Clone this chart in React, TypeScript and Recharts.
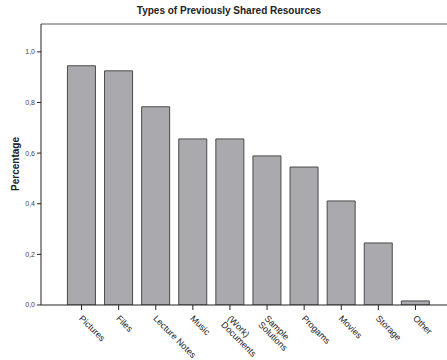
import { BarChart, Bar, XAxis, YAxis, ReferenceLine } from "recharts";

const categories = [
  "Pictures",
  "Files",
  "Lecture Notes",
  "Music",
  "(Work)\nDocuments",
  "Sample\nSolutions",
  "Progams",
  "Movies",
  "Storage",
  "Other",
];

const percentages = [0.945, 0.925, 0.783, 0.656, 0.656, 0.589, 0.545, 0.411, 0.245, 0.016];

const yTicks = [0, 0.2, 0.4, 0.6, 0.8, 1.0];

const data = categories.map((name, i) => ({ name, value: percentages[i] }));

const FONT = "'Liberation Sans', Arial, sans-serif";

const CategoryTick = ({ x, y, payload }: any) => {
  const lines = String(payload.value).split("\n");
  return (
    <g transform={`translate(${x - 3},${y + 7}) rotate(45)`}>
      <text x={0} y={0} fontSize={9} fontFamily={FONT} fill="#222" textAnchor="start">
        {lines.map((line, i) => (
          <tspan key={i} x={0} dy={i === 0 ? 0 : 9}>
            {line}
          </tspan>
        ))}
      </text>
    </g>
  );
};

const App = () => {
  return (
    <div
      style={{
        position: "absolute",
        left: 0,
        top: 0,
        width: 447,
        height: 360,
        overflow: "hidden",
        background: "#fff",
        fontFamily: FONT,
      }}
    >
      <div
        style={{
          position: "absolute",
          top: 5,
          left: 0,
          width: 458,
          textAlign: "center",
          fontSize: 10,
          fontWeight: "bold",
          color: "#222",
        }}
      >
        Types of Previously Shared Resources
      </div>
      <div
        style={{
          position: "absolute",
          left: 15,
          top: 164,
          transform: "translate(-50%, -50%) rotate(-90deg)",
          fontSize: 10,
          fontWeight: "bold",
          color: "#222",
          whiteSpace: "nowrap",
        }}
      >
        Percentage
      </div>
      <BarChart
        width={456}
        height={360}
        data={data}
        margin={{ top: 24, right: 0, bottom: 0, left: 0 }}
        barCategoryGap="12%"
      >
        <XAxis
          dataKey="name"
          interval={0}
          height={55}
          padding={{ left: 22, right: 22 }}
          stroke="#222"
          tickLine={{ stroke: "#222" }}
          tickSize={5}
          tick={<CategoryTick />}
        />
        <YAxis
          width={41}
          domain={[0, 1.11]}
          ticks={yTicks}
          allowDataOverflow
          stroke="#222"
          tickSize={4}
          tick={{ fontSize: 7, fill: "#444", fontFamily: FONT }}
          tickFormatter={(v: number) => v.toFixed(1).replace(".", ",")}
        />
        <ReferenceLine y={1.11} stroke="#555" strokeWidth={1} ifOverflow="extendDomain" />
        <Bar
          dataKey="value"
          fill="#aaaaae"
          stroke="#4a4a4a"
          strokeWidth={1}
          isAnimationActive={false}
        />
      </BarChart>
    </div>
  );
};

export default App;
